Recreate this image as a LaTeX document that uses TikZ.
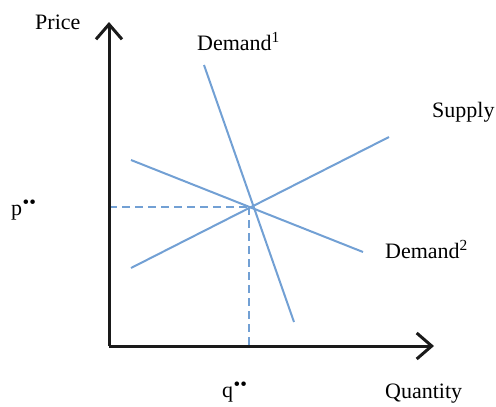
\documentclass[tikz,border=0pt]{standalone}
\usepackage{fontspec}
\setmainfont{Liberation Serif}
\usetikzlibrary{arrows.meta}
\definecolor{curveblue}{HTML}{72A0D4}
\definecolor{axisgray}{HTML}{1A1A1A}
\newcommand{\stardots}{\raisebox{0.3em}{\fontsize{19}{19}\selectfont\kern0.5pt••}}
\begin{document}
\begin{tikzpicture}[x=1pt,y=-1pt,
  axisline/.style={draw=axisgray,line width=3pt,-{Straight Barb[length=15pt,width=26pt,line width=3pt]}},
  curve/.style={draw=curveblue,line width=2pt},
  guide/.style={draw=curveblue,line width=2pt,dash pattern=on 8pt off 5pt},
  lab/.style={font=\fontsize{22}{25}\selectfont,inner sep=0pt,anchor=base west,text=black}]
\useasboundingbox (0,0) rectangle (496,407);
% coordinates
\coordinate (origin) at (109,346);
\coordinate (ytip) at (109,22);
\coordinate (xtip) at (434,346);
\coordinate (d1a) at (204,65);
\coordinate (d1b) at (294,322);
\coordinate (sa) at (131,268);
\coordinate (sb) at (389,137);
\coordinate (d2a) at (131,160);
\coordinate (d2b) at (363,252);
\coordinate (corner) at (249,207);
\coordinate (peq) at (109,207);
\coordinate (qeq) at (249,346);
% dashed guides
\draw[guide] (peq) -- (corner);
\draw[guide] (corner) -- (qeq);
% curves
\draw[curve] (d1a) -- (d1b);
\draw[curve] (sa) -- (sb);
\draw[curve] (d2a) -- (d2b);
% axes
\draw[axisline] (origin) -- (ytip);
\draw[axisline] (origin) -- (xtip);
% labels
\node[lab] (price) at (35,29) {Price};
\node[lab] (dem1) at (197,50) {Demand\textsuperscript{1}};
\node[lab] (supply) at (432,117) {Supply};
\node[lab] (p) at (11,215) {p\stardots};
\node[lab] (dem2) at (385,258) {Demand\textsuperscript{2}};
\node[lab] (q) at (222,397) {q\stardots};
\node[lab] (qty) at (385,398) {Quantity};
\end{tikzpicture}
\end{document}
